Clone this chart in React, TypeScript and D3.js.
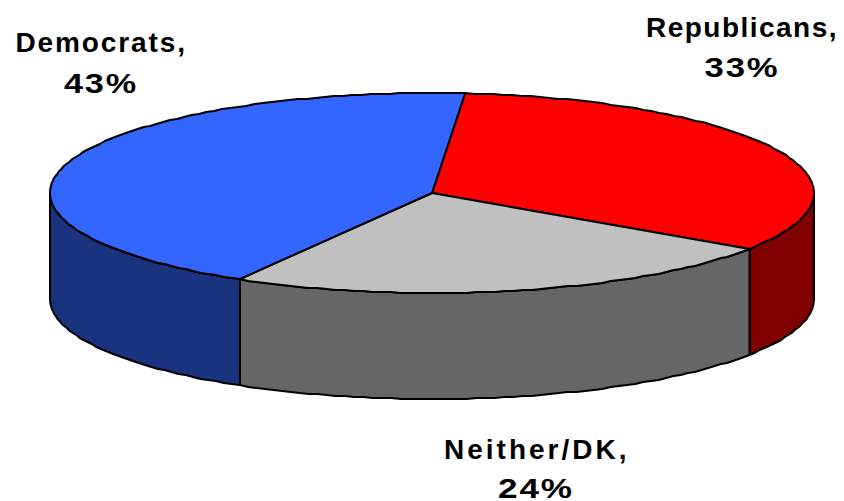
import React from "react";
import * as d3 from "d3";

const categories = ["Republicans", "Neither/DK", "Democrats"];
const shares = [33, 24, 43];
const topColors = ["#ff0000", "#c0c0c0", "#3366ff"];
const sideColors = ["#800000", "#666666", "#1a337f"];

const width = 844;
const height = 501;
const cx = 432;
const cy = 193;
const rx = 382;
const ry = 100;
const depth = 106;
const firstAngle = 0.087;

// x is the line centre, y the baseline of the two lines, w their drawn widths
const labelPos = [
  { x: 742, y: [37, 77], w: [192, 75] },
  { x: 536, y: [459, 498], w: [184, 76] },
  { x: 101, y: [52, 93], w: [171, 74] },
];

const pie = d3
  .pie<number>()
  .value((d) => d)
  .sort(null)
  .startAngle(firstAngle)
  .endAngle(firstAngle + Math.PI * 2);

const arcs = pie(shares);

// the original is a low-res export, its edges step a bit
const px = (a: number) => cx + rx * Math.sin(a);
const py = (a: number, dy = 0) => Math.round(cy - ry * Math.cos(a)) + dy;

const rim = (a0: number, a1: number, dy = 0): [number, number][] => {
  const n = Math.max(2, Math.ceil(Math.abs(a1 - a0) * 40));
  return d3.range(n + 1).map((i) => {
    const a = a0 + ((a1 - a0) * i) / n;
    return [px(a), py(a, dy)] as [number, number];
  });
};

const line = d3.line().curve(d3.curveLinear);

const topPath = (a0: number, a1: number) =>
  line([[cx, cy], ...rim(a0, a1)]) + "Z";

// only the front half of the wall shows
const sidePath = (a0: number, a1: number) => {
  const s = Math.max(a0, Math.PI / 2);
  const e = Math.min(a1, (Math.PI * 3) / 2);
  if (e <= s) return null;
  return line([...rim(s, e), ...rim(e, s, depth)]) + "Z";
};

export default function App() {
  return (
    <svg
      width={width}
      height={height}
      style={{ position: "absolute", left: 0, top: 0, background: "#fff" }}
    >
      <g stroke="#000" strokeWidth={2} strokeLinejoin="round">
        {arcs.map((d, i) => {
          const p = sidePath(d.startAngle, d.endAngle);
          return p ? <path key={i} d={p} fill={sideColors[i]} /> : null;
        })}
        {arcs.map((d, i) => (
          <path key={i} d={topPath(d.startAngle, d.endAngle)} fill={topColors[i]} />
        ))}
      </g>
      <g
        fontFamily="Liberation Sans"
        fontWeight="bold"
        fontSize={28}
        letterSpacing={1.5}
        textAnchor="middle"
        fill="#000"
      >
        {categories.map((c, i) => {
          const l = labelPos[i];
          return (
            <g key={c}>
              <text x={l.x} y={l.y[0]} textLength={l.w[0]} lengthAdjust="spacing">
                {c},
              </text>
              <text x={l.x} y={l.y[1]} textLength={l.w[1]} lengthAdjust="spacingAndGlyphs">
                {shares[i]}%
              </text>
            </g>
          );
        })}
      </g>
    </svg>
  );
}
